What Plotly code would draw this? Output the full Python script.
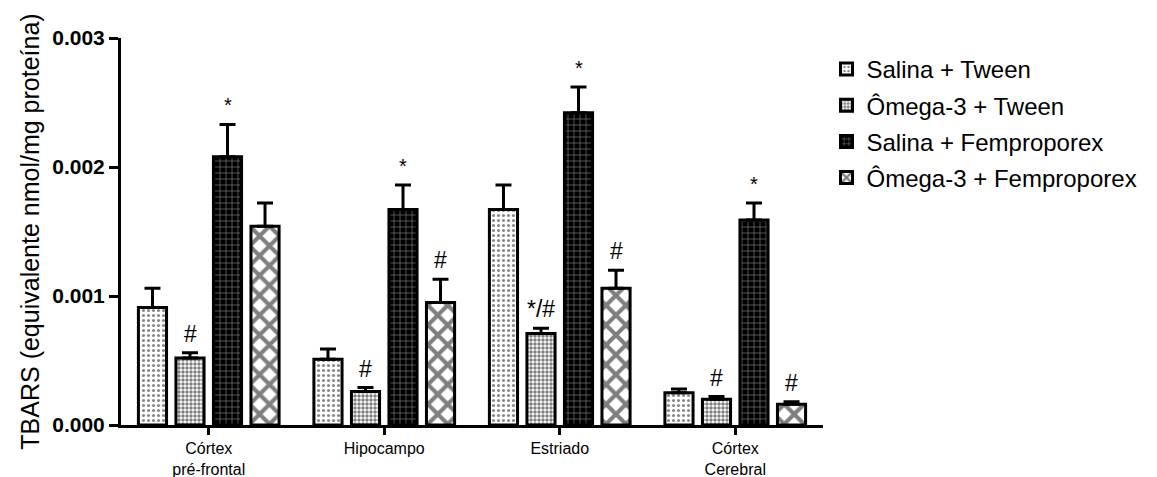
import plotly.graph_objects as go

categories = ["Córtex<br>pré-frontal", "Hipocampo", "Estriado", "Córtex<br>Cerebral"]
series_names = ["Salina + Tween", "Ômega-3 + Tween", "Salina + Femproporex", "Ômega-3 + Femproporex"]

salina_tween = [0.00091, 0.00051, 0.00167, 0.00025]
omega_tween = [0.00052, 0.00026, 0.00071, 0.00020]
salina_femp = [0.00208, 0.00167, 0.00242, 0.00159]
omega_femp = [0.00154, 0.00095, 0.00106, 0.00016]

salina_tween_err = [0.00015, 0.00008, 0.00019, 0.00003]
omega_tween_err = [0.00004, 0.00003, 0.00004, 0.00002]
salina_femp_err = [0.00025, 0.00019, 0.00020, 0.00013]
omega_femp_err = [0.00018, 0.00018, 0.00014, 0.00002]

marks_salina_tween = ["", "", "", ""]
marks_omega_tween = ["#", "#", "*/#", "#"]
marks_salina_femp = ["*", "*", "*", "*"]
marks_omega_femp = ["", "#", "#", "#"]

values = [salina_tween, omega_tween, salina_femp, omega_femp]
errors = [salina_tween_err, omega_tween_err, salina_femp_err, omega_femp_err]
marks = [marks_salina_tween, marks_omega_tween, marks_salina_femp, marks_omega_femp]

FONT = "Arial, Liberation Sans, sans-serif"

patterns = [
    dict(shape=".", fgcolor="#111", bgcolor="white", size=5, solidity=0.3, fillmode="overlay"),
    dict(shape=".", fgcolor="black", bgcolor="white", size=4, solidity=0.6, fillmode="overlay"),
    dict(shape="+", fgcolor="white", bgcolor="black", size=6, solidity=0.2, fillmode="overlay"),
    dict(shape="x", fgcolor="black", bgcolor="white", size=14, solidity=0.5, fillmode="overlay"),
]

fig = go.Figure()
for name, vals, errs, pat in zip(series_names, values, errors, patterns):
    fig.add_trace(go.Bar(
        x=categories, y=vals, name=name, legendgroup=name,
        marker=dict(color="white" if pat["bgcolor"] == "white" else "black",
                    line=dict(color="black", width=3), pattern=pat),
        error_y=dict(type="data", array=errs, arrayminus=[0] * len(errs), symmetric=False,
                     color="black", thickness=3, width=8),
    ))

slot = 37.5
annotations = []
for k, (vals, errs, mk) in enumerate(zip(values, errors, marks)):
    for i, cat in enumerate(categories):
        if mk[i]:
            is_star = mk[i] == "*"
            annotations.append(dict(
                x=cat, y=vals[i] + errs[i], xref="x", yref="y",
                text=mk[i], showarrow=False, yanchor="bottom",
                xshift=(k - 1.5) * slot, yshift=6 if is_star else 4,
                font=dict(family=FONT, size=20 if is_star else 23, color="black"),
            ))

fig.update_layout(
    width=1157, height=477,
    margin=dict(l=121, r=334, t=38, b=52, autoexpand=False),
    paper_bgcolor="white", plot_bgcolor="white",
    barmode="group", bargap=0.145, bargroupgap=0.25,
    font=dict(family=FONT, color="black"),
    annotations=annotations,
    legend=dict(x=1.005, y=0.977, xanchor="left", yanchor="top",
                font=dict(family=FONT, size=24, color="black"),
                tracegroupgap=2, itemwidth=30, bgcolor="rgba(0,0,0,0)"),
    showlegend=True,
)
fig.update_xaxes(
    showline=True, linecolor="black", linewidth=3, ticks="outside", ticklen=7, tickwidth=3,
    tickcolor="black", tickfont=dict(family=FONT, size=16, color="black"), showgrid=False,
    range=[-0.5, 3.5], automargin=False,
)
fig.update_yaxes(
    range=[0, 0.003], dtick=0.001, tickformat=".3f", showline=True, linecolor="black", linewidth=3,
    ticks="outside", ticklen=9, tickwidth=3, tickcolor="black", showgrid=False, zeroline=False,
    tickfont=dict(family=FONT, size=21, color="black", weight="bold"), automargin=False,
    title=dict(text="TBARS (equivalente nmol/mg proteína)", font=dict(family=FONT, size=25, color="black"),
               standoff=6),
)

fig.write_html("out.html")
